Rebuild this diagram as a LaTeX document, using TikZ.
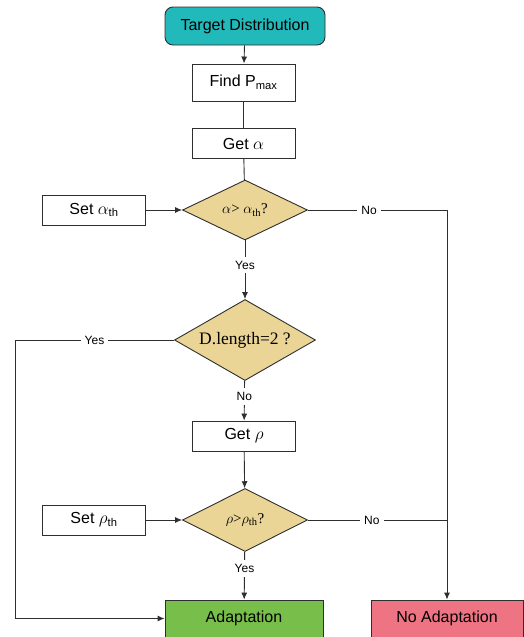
\documentclass[tikz,border=0pt]{standalone}
\usepackage{amsmath}
\usepackage{fontspec}
\setmainfont{Liberation Sans}
\newfontfamily\dfont{Liberation Serif}
\usetikzlibrary{shapes.geometric,arrows.meta}

\definecolor{tealbox}{HTML}{22B9BB}
\definecolor{sandbox}{HTML}{EAD597}
\definecolor{grassbox}{HTML}{78BE4A}
\definecolor{rosebox}{HTML}{EE7484}
\definecolor{linegray}{HTML}{2E2E2E}

\begin{document}
\begin{tikzpicture}[x=1pt,y=-1pt,
		line width=0.9pt, draw=linegray,
		proc/.style={draw=linegray, rectangle, inner sep=0pt, minimum width=103pt, minimum height=30pt, font=\fontsize{16}{19}\selectfont},
		test/.style={draw=linegray, diamond, aspect=1.9, fill=sandbox, inner sep=0pt, font=\dfont\fontsize{15}{18}\selectfont},
		lbl/.style={fill=white, inner sep=4pt, font=\fontsize{12}{14}\selectfont},
		arr/.style={-{Latex[length=7pt,width=6pt]}}]
	\useasboundingbox (0,0) rectangle (524,637);
	% boxes
	\node[proc, fill=tealbox, rounded corners=8pt, minimum width=160pt, minimum height=38pt] (td) at (245,26) {Target Distribution};
	\node[proc, minimum height=37pt] (fp) at (243.5,82.5) {Find P\textsubscript{max}};
	\node[proc] (ga) at (243.5,143.5) {Get $\alpha$};
	\node[test, minimum width=125pt, minimum height=60pt] (d1) at (245,210) {$\alpha$> $\alpha_{\text{th}}$?};
	\node[proc] (sa) at (94,210) {Set $\alpha_{\text{th}}$};
	\node[test, aspect=1.75, minimum width=141pt, minimum height=81pt, font=\dfont\fontsize{17.5}{20}\selectfont] (d2) at (245,340) {D.length=2 ?};
	\node[proc] (gr) at (244,436) {Get $\rho$};
	\node[test, minimum width=125pt, minimum height=63pt] (d3) at (245,520) {$\rho$>$\rho_{\text{th}}$?};
	\node[proc] (sr) at (94,520) {Set $\rho_{\text{th}}$};
	\node[proc, fill=grassbox, minimum width=158pt, minimum height=37pt] (ad) at (244,618.5) {Adaptation};
	\node[proc, fill=rosebox, minimum width=152pt, minimum height=37pt] (na) at (447,618.5) {No Adaptation};
	\coordinate (lft) at (15,340);
	% connectors
	\draw[arr] (td) -- (fp);
	\draw (fp) -- (ga);
	\draw (ga) -- (d1);
	\draw[arr] (sa) -- (d1);
	\draw[arr] (d1) -- node[lbl, pos=.42]{Yes} (d2);
	\draw[arr] (d1.east) -- node[lbl, pos=.44]{No} (d1.east -| na.north) -- (na.north);
	\draw[arr] (d2) -- node[lbl, pos=.4]{No} (gr);
	\draw[arr] (d2.west) -- node[lbl]{Yes} (lft) |- (ad.west);
	\draw[arr] (gr) -- (d3);
	\draw[arr] (sr) -- (d3);
	\draw (d3.east) -- node[lbl, pos=.46]{No} (d3.east -| na.north);
	\draw[arr] (d3) -- node[lbl, pos=.35]{Yes} (ad);
\end{tikzpicture}
\end{document}
